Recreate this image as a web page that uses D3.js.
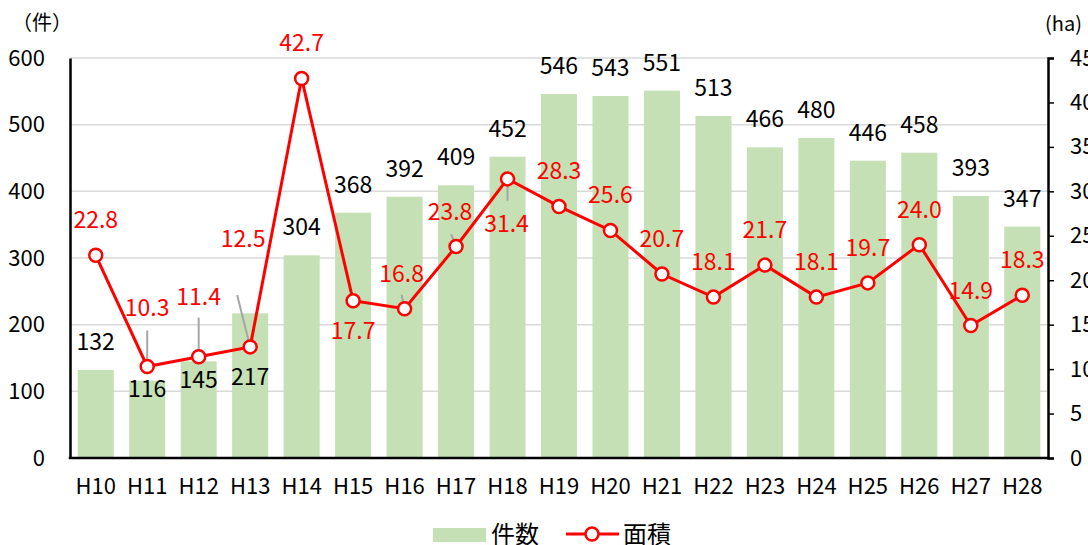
<!DOCTYPE html>
<html>
<head>
<meta charset="utf-8">
<script src="https://cdn.jsdelivr.net/npm/d3@7"></script>
<style>
	body { margin: 0; background: #fff; }
	svg { display: block; font-family: "Noto Sans CJK JP", "Noto Sans", sans-serif; }
</style>
</head>
<body>
<svg id="chart" width="1088" height="545"></svg>
<script>
// data
var years = ['H10','H11','H12','H13','H14','H15','H16','H17','H18','H19',
	'H20','H21','H22','H23','H24','H25','H26','H27','H28'];
var counts = [132,116,145,217,304,368,392,409,452,546,543,551,513,466,480,446,458,393,347];
var areas = [22.8,10.3,11.4,12.5,42.7,17.7,16.8,23.8,31.4,28.3,25.6,20.7,18.1,21.7,18.1,19.7,24.0,14.9,18.3];
var leftTicks = [0,100,200,300,400,500,600];
var rightTicks = [0,5,10,15,20,25,30,35,40,45];

// label placement (hand tuned, like the original)
var countDy = {1: 16, 2: 27, 3: 72};
var areaOffset = {1: [0,-50], 2: [0,-52], 3: [-7,-100], 5: [0,38], 6: [-3,-27], 7: [-6,-26], 8: [-1,53]};
var leaders = {1: [0,-36], 2: [0,-39], 3: [-13,-52], 6: [-3,-14], 7: [-5,-12], 8: [0,22]};

var svg = d3.select('#chart');
var plotL = 70, plotR = 1048, plotT = 58, plotB = 458;
var barColor = '#c5e0b4', red = '#ff0000';

var x = d3.scaleBand().domain(years).range([plotL, plotR])
	.paddingInner(0.3).paddingOuter(0.15);
var yL = d3.scaleLinear().domain([0, 600]).range([plotB, plotT]);
var yR = d3.scaleLinear().domain([0, 45]).range([plotB, plotT]);
var cx = function(d, i) { return x(years[i]) + x.bandwidth() / 2; };

// grid
svg.append('g').selectAll('line').data(leftTicks.slice(1)).enter().append('line')
	.attr('x1', plotL).attr('x2', plotR)
	.attr('y1', function(d) { return yL(d); }).attr('y2', function(d) { return yL(d); })
	.attr('stroke', '#d9d9d9').attr('stroke-width', 1.5);

// bars
svg.append('g').selectAll('rect').data(counts).enter().append('rect')
	.attr('x', function(d, i) { return x(years[i]); })
	.attr('width', x.bandwidth())
	.attr('y', function(d) { return yL(d); })
	.attr('height', function(d) { return plotB - yL(d); })
	.attr('fill', barColor);

// axes
var axL = svg.append('g').attr('transform', 'translate(' + plotL + ',0)')
	.call(d3.axisLeft(yL).tickValues(leftTicks).tickSize(0).tickPadding(25));
var axR = svg.append('g').attr('transform', 'translate(' + plotR + ',0)')
	.call(d3.axisRight(yR).tickValues(rightTicks).tickSize(6).tickPadding(16));
var axB = svg.append('g').attr('transform', 'translate(0,' + plotB + ')')
	.call(d3.axisBottom(x).tickSize(0).tickPadding(20));
[axL, axR, axB].forEach(function(a) {
	a.attr('font-family', null).attr('font-size', null);
	a.select('.domain').attr('stroke', '#000').attr('stroke-width', 2.5);
	a.selectAll('.tick line').attr('stroke', '#000').attr('stroke-width', 1.5);
	a.selectAll('text').attr('font-size', 22).attr('fill', '#000');
});
axB.select('.domain').attr('d', 'M' + (plotL - 1.25) + ',0H' + (plotR + 1.25));

// axis titles
svg.append('text').attr('x', 42).attr('y', 30).attr('text-anchor', 'middle')
	.attr('font-size', 20).text('（件）');
svg.append('text').attr('x', 1045).attr('y', 31)
	.attr('font-size', 20).text('(ha)');

// line
var line = d3.line()
	.x(function(d, i) { return cx(d, i); })
	.y(function(d) { return yR(d); });
svg.append('path').datum(areas).attr('d', line)
	.attr('fill', 'none').attr('stroke', red).attr('stroke-width', 3);

// leader lines
svg.append('g').selectAll('line').data(Object.keys(leaders)).enter().append('line')
	.attr('x1', function(k) { return cx(0, +k) + leaders[k][0]; })
	.attr('y1', function(k) { return yR(areas[+k]) + leaders[k][1]; })
	.attr('x2', function(k) { return cx(0, +k); })
	.attr('y2', function(k) { return yR(areas[+k]); })
	.attr('stroke', '#a6a6a6').attr('stroke-width', 2);

// markers
svg.append('g').selectAll('circle').data(areas).enter().append('circle')
	.attr('cx', cx).attr('cy', function(d) { return yR(d); })
	.attr('r', 6.5).attr('fill', '#fff').attr('stroke', red).attr('stroke-width', 2.5);

// bar labels
svg.append('g').selectAll('text').data(counts).enter().append('text')
	.attr('x', cx)
	.attr('y', function(d, i) { return yL(d) + (countDy[i] !== undefined ? countDy[i] : -20); })
	.attr('text-anchor', 'middle').attr('font-size', 23).attr('fill', '#000')
	.text(function(d) { return d; });

// line labels
svg.append('g').selectAll('text').data(areas).enter().append('text')
	.attr('x', function(d, i) { return cx(d, i) + (areaOffset[i] ? areaOffset[i][0] : 0); })
	.attr('y', function(d, i) { return yR(d) + (areaOffset[i] ? areaOffset[i][1] : -27); })
	.attr('text-anchor', 'middle').attr('font-size', 23).attr('fill', red)
	.text(function(d) { return d.toFixed(1); });

// legend
var lg = svg.append('g');
lg.append('rect').attr('x', 433).attr('y', 528).attr('width', 53).attr('height', 14).attr('fill', barColor);
lg.append('text').attr('x', 491).attr('y', 543).attr('font-size', 24).text('件数');
lg.append('line').attr('x1', 566).attr('x2', 619).attr('y1', 534).attr('y2', 534)
	.attr('stroke', red).attr('stroke-width', 3);
lg.append('circle').attr('cx', 592).attr('cy', 534).attr('r', 6.5)
	.attr('fill', '#fff').attr('stroke', red).attr('stroke-width', 2.5);
lg.append('text').attr('x', 623).attr('y', 543).attr('font-size', 24).text('面積');
</script>
</body>
</html>
